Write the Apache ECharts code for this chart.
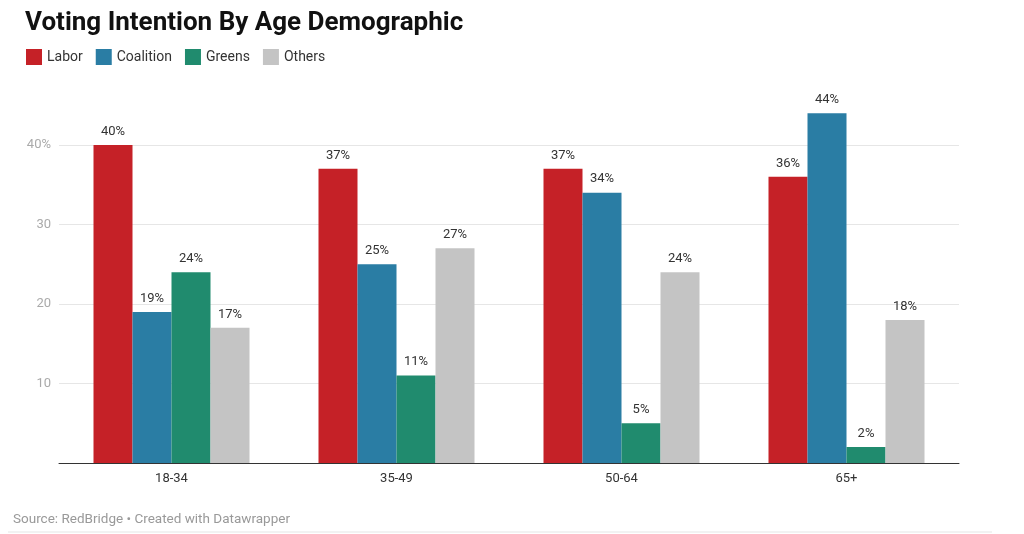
<!DOCTYPE html>
<html>
<head>
<meta charset="utf-8">
<script src="https://cdn.jsdelivr.net/npm/echarts@6/dist/echarts.min.js"></script>
<style>
  html, body { margin: 0; padding: 0; background: #fff; }
  #chart { width: 1024px; height: 534px; }
</style>
</head>
<body>
<div id="chart"></div>
<script>
// data
var ageGroups = ['18-34', '35-49', '50-64', '65+'];
var labor = [40, 37, 37, 36];
var coalition = [19, 25, 34, 44];
var greens = [24, 11, 5, 2];
var others = [17, 27, 24, 18];
var yTicks = [0, 10, 20, 30, 40];

var chart = echarts.init(document.getElementById('chart'));

function barSeries(name, data, color) {
  return {
    name: name,
    type: 'bar',
    data: data,
    barWidth: 39,
    barGap: '0%',
    clip: false,
    itemStyle: { color: color },
    label: {
      show: true,
      position: 'top',
      distance: 7,
      color: '#333',
      fontSize: 13,
      fontFamily: 'Roboto',
      formatter: '{c}%'
    }
  };
}

var option = {
  backgroundColor: '#fff',
  animation: false,
  textStyle: { fontFamily: 'Roboto' },
  title: {
    text: 'Voting Intention By Age Demographic',
    left: 20,
    top: 5,
    textStyle: { fontSize: 26, fontWeight: 'bold', color: '#111', fontFamily: 'Roboto' }
  },
  legend: {
    left: 21,
    top: 44,
    icon: 'rect',
    itemWidth: 16,
    itemHeight: 16,
    itemGap: 13,
    textStyle: { fontSize: 14, color: '#333', fontFamily: 'Roboto' },
    data: ['Labor', 'Coalition', 'Greens', 'Others']
  },
  grid: {
    left: 59,
    right: 65,
    top: 145,
    bottom: 71,
    containLabel: false
  },
  xAxis: {
    type: 'category',
    data: ageGroups,
    axisTick: { show: false },
    axisLine: { lineStyle: { color: '#333', width: 1 } },
    axisLabel: { color: '#333', fontSize: 13, margin: 9 }
  },
  yAxis: {
    type: 'value',
    min: yTicks[0],
    max: yTicks[yTicks.length - 1],
    interval: 10,
    axisLine: { show: false },
    axisTick: { show: false },
    axisLabel: {
      color: '#aaa',
      fontSize: 13,
      margin: 8,
      showMinLabel: false,
      formatter: function (v) { return v === 40 ? v + '%' : v; }
    },
    splitLine: { lineStyle: { color: '#e6e6e6', width: 1 } }
  },
  graphic: [
    {
      type: 'text',
      left: 13,
      top: 513,
      style: { text: 'Source: RedBridge \u2022 Created with Datawrapper', fill: '#999', fontSize: 13.5, fontFamily: 'Roboto' }
    },
    {
      type: 'rect',
      shape: { x: 8, y: 531, width: 984, height: 2 },
      style: { fill: '#f2f2f2' }
    }
  ],
  series: [
    barSeries('Labor', labor, '#c52127'),
    barSeries('Coalition', coalition, '#2a7da4'),
    barSeries('Greens', greens, '#208b6e'),
    barSeries('Others', others, '#c4c4c4')
  ]
};

chart.setOption(option);
</script>
</body>
</html>
